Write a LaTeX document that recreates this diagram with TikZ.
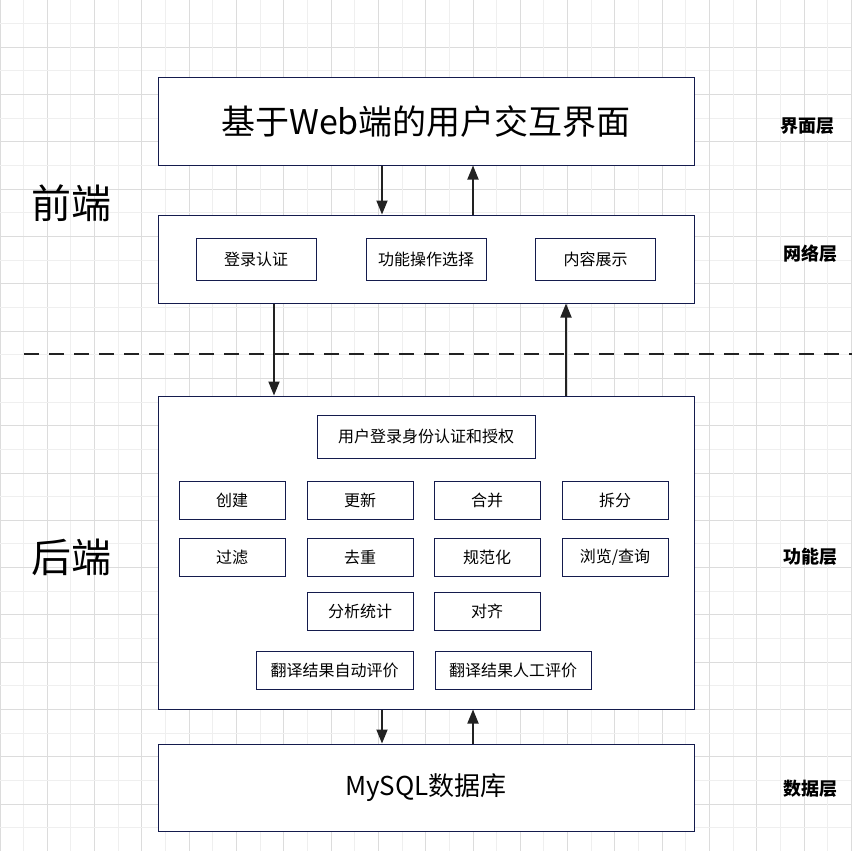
\documentclass[tikz,border=0pt]{standalone}
\usepackage{fontspec}
\setmainfont{Noto Sans CJK SC}
\usetikzlibrary{arrows.meta}
\definecolor{navy}{HTML}{141B4D}
\definecolor{gridA}{HTML}{EFEFEF}
\definecolor{gridB}{HTML}{DCDCDC}
\definecolor{arr}{HTML}{222222}
\begin{document}
\begin{tikzpicture}[x=1pt,y=-1pt,
  box/.style={draw=navy,line width=1pt,fill=white,inner sep=0pt,font=\fontsize{16}{18}\selectfont},
  layerbox/.style={box,minimum width=536pt},
  opbox/.style={box,minimum width=106pt,minimum height=38pt},
  arrowln/.style={draw=arr,line width=1.8pt,-{Triangle[length=14pt,width=11pt]}},
  layerlbl/.style={font=\fontsize{18}{20}\selectfont\bfseries,text=black},
  sidelbl/.style={font=\fontsize{40}{43}\selectfont,text=black}]
\useasboundingbox (0,0) rectangle (852,851);
\fill[white] (0,0) rectangle (852,851);
% grid
\foreach \i in {0,...,36} {
  \pgfmathsetmacro{\p}{\i*23.65}
  \pgfmathtruncatemacro{\e}{mod(\i,2)}
  \ifnum\e=0
    \draw[gridB,line width=1pt] (\p,0) -- (\p,851);
    \draw[gridB,line width=1pt] (0,\p) -- (852,\p);
  \else
    \draw[gridA,line width=1pt] (\p,0) -- (\p,851);
    \draw[gridA,line width=1pt] (0,\p) -- (852,\p);
  \fi
}
% layers
\node[layerbox,minimum height=87pt,font=\fontsize{34}{37}\selectfont] (ui) at (426,121.5) {基于Web端的用户交互界面};
\node[layerbox,minimum height=88pt] (net) at (426,259) {};
\node[box,minimum width=120pt,minimum height=42pt] (login) at (256,259) {登录认证};
\node[box,minimum width=120pt,minimum height=42pt] (choose) at (426,259) {功能操作选择};
\node[box,minimum width=120pt,minimum height=42pt] (show) at (595.5,259) {内容展示};
\node[layerbox,minimum height=313pt] (fn) at (426,552.5) {};
\node[box,minimum width=218pt,minimum height=43pt] (auth) at (426,436.5) {用户登录身份认证和授权};
\node[opbox] (create) at (232,500) {创建};
\node[opbox] (update) at (360,500) {更新};
\node[opbox] (merge) at (487,500) {合并};
\node[opbox] (split) at (615,500) {拆分};
\node[opbox] (filter) at (232,557) {过滤};
\node[opbox] (dedup) at (360,557) {去重};
\node[opbox] (norm) at (487,557) {规范化};
\node[opbox] (browse) at (615,557) {浏览/查询};
\node[opbox] (stat) at (360,611) {分析统计};
\node[opbox] (align) at (487,611) {对齐};
\node[box,minimum width=157pt,minimum height=38pt] (autoeval) at (334.5,670) {翻译结果自动评价};
\node[box,minimum width=156pt,minimum height=38pt] (maneval) at (513,670) {翻译结果人工评价};
\node[layerbox,minimum height=87pt,font=\fontsize{26}{30}\selectfont] (db) at (426,787.5) {MySQL数据库};
% arrows
\draw[arrowln] ([xshift=-44pt]ui.south) -- ([xshift=-44pt]net.north);
\draw[arrowln] ([xshift=47pt]net.north) -- ([xshift=47pt]ui.south);
\draw[arrowln] ([xshift=-152pt]net.south) -- ([xshift=-152pt]fn.north);
\draw[arrowln] ([xshift=140pt]fn.north) -- ([xshift=140pt]net.south);
\draw[arrowln] ([xshift=-44pt]fn.south) -- ([xshift=-44pt]db.north);
\draw[arrowln] ([xshift=47pt]db.north) -- ([xshift=47pt]fn.south);
% divider
\coordinate (dl) at (24,354);
\coordinate (dr) at (852,354);
\draw[arr,line width=2pt,dash pattern=on 15pt off 10pt] (dl) -- (dr);
% labels
\node[sidelbl] (front) at (71,203) {前端};
\node[sidelbl] (back) at (71,557) {后端};
\node[layerlbl] (l1) at (807,126) {界面层};
\node[layerlbl] (l2) at (810,254) {网络层};
\node[layerlbl] (l3) at (810,557) {功能层};
\node[layerlbl] (l4) at (810,789) {数据层};
\end{tikzpicture}
\end{document}
